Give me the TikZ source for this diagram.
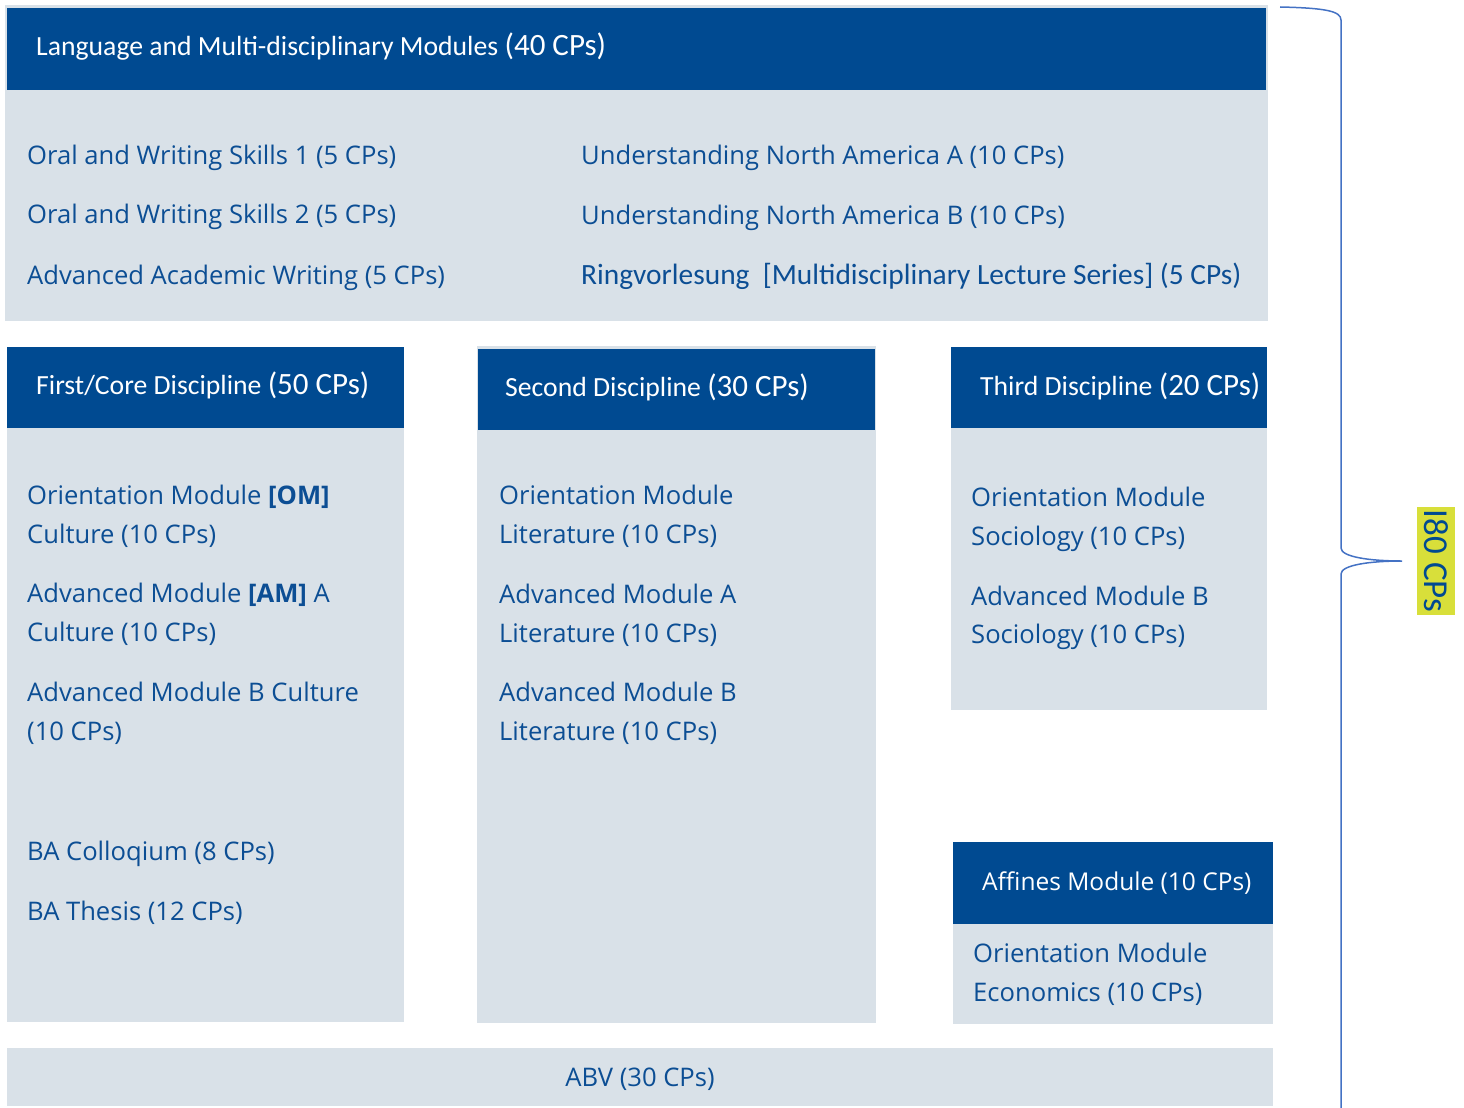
\documentclass[tikz,border=0pt]{standalone}
\usepackage{fontspec}
\setmainfont{Open Sans}
\newfontfamily\calfont{Carlito}
\definecolor{hdblue}{RGB}{0,74,145}
\definecolor{txblue}{RGB}{12,78,148}
\definecolor{paleblue}{RGB}{217,225,232}
\definecolor{braceblue}{RGB}{68,114,196}
\definecolor{markyellow}{RGB}{216,223,58}
\tikzset{
  hdtext/.style={anchor=west, inner sep=0pt, yshift=-1pt, text=white, font=\calfont\fontsize{27.7}{31}\selectfont},
  item/.style={anchor=west, inner sep=0pt, yshift=-6.5pt, text height=0.76em, text depth=0.24em, text=txblue, font=\fontsize{25.6}{29}\selectfont},
}
\newcommand{\cps}[1]{{\fontsize{31}{34}\selectfont(#1 CPs)}}
\begin{document}
\begin{tikzpicture}[x=1pt, y=-1pt]
\useasboundingbox (0,0) rectangle (1464,1108);
% boxes
\fill[paleblue] (5,5) rectangle (1268,321);
\fill[hdblue] (7,8) rectangle (1266,90);
\fill[paleblue] (7,428) rectangle (404,1022);
\fill[hdblue] (7,347) rectangle (404,428);
\fill[paleblue] (477,346) rectangle (876,1023);
\fill[hdblue] (478,349) rectangle (875,430);
\fill[paleblue] (951,428) rectangle (1267,710);
\fill[hdblue] (951,347) rectangle (1267,428);
\fill[paleblue] (953,924) rectangle (1273,1024);
\fill[hdblue] (953,842) rectangle (1273,924);
\fill[paleblue] (7,1048) rectangle (1273,1106);

% language modules
\node[hdtext] (lang) at (36,46) {Language and Multi-disciplinary Modules \cps{40}};
\node[item] (ows1) at (27,155) {Oral and Writing Skills 1 (5 CPs)};
\node[item] (ows2) at (27,214) {Oral and Writing Skills 2 (5 CPs)};
\node[item] (aaw) at (27,275) {Advanced Academic Writing (5 CPs)};
\node[item] (unaa) at (581,155) {Understanding North America A (10 CPs)};
\node[item] (unab) at (581,215) {Understanding North America B (10 CPs)};
\node[item, font=\calfont\fontsize{29.4}{33}\selectfont] (ring) at (581,275) {Ringvorlesung\ \ [Multidisciplinary Lecture Series] (5 CPs)};

% first discipline
\node[hdtext] (first) at (36,384) {First/Core Discipline \cps{50}};
\node[item] (om1) at (27,495) {Orientation Module \textbf{[OM]}};
\node[item] (om1b) at (27,534) {Culture (10 CPs)};
\node[item] (ama1) at (27,593) {Advanced Module \textbf{[AM]} A};
\node[item] (ama1b) at (27,632) {Culture (10 CPs)};
\node[item] (amb1) at (27,692) {Advanced Module B Culture};
\node[item] (amb1b) at (27,731) {(10 CPs)};
\node[item] (coll) at (27,851) {BA Colloqium (8 CPs)};
\node[item] (thesis) at (27,911) {BA Thesis (12 CPs)};

% second discipline
\node[hdtext] (second) at (505,386) {Second Discipline \cps{30}};
\node[item] (om2) at (499,495) {Orientation Module};
\node[item] (om2b) at (499,534) {Literature (10 CPs)};
\node[item] (ama2) at (499,594) {Advanced Module A};
\node[item] (ama2b) at (499,633) {Literature (10 CPs)};
\node[item] (amb2) at (499,692) {Advanced Module B};
\node[item] (amb2b) at (499,731) {Literature (10 CPs)};

% third discipline
\node[hdtext] (third) at (980,385) {Third Discipline \cps{20}};
\node[item] (om3) at (971,497) {Orientation Module};
\node[item] (om3b) at (971,536) {Sociology (10 CPs)};
\node[item] (amb3) at (971,596) {Advanced Module B};
\node[item] (amb3b) at (971,634) {Sociology (10 CPs)};

% affines
\node[item, text=white, font=\fontsize{24.5}{28}\selectfont] (aff) at (982,881) {Affines Module (10 CPs)};
\node[item] (om4) at (973,953) {Orientation Module};
\node[item] (om4b) at (973,992) {Economics (10 CPs)};

% abv
\node[item, anchor=center] (abv) at (640,1077) {ABV (30 CPs)};

% brace and total
\draw[braceblue, line width=1.5pt] (1280,7) .. controls (1325,8) and (1341,11) .. (1341,20)
  -- (1341,548) .. controls (1341,557) and (1370,561) .. (1402,561)
  .. controls (1370,561) and (1341,565) .. (1341,574) -- (1341,1108);
\fill[markyellow] (1417,507) rectangle (1455,615);
\node[rotate=-90, inner sep=0pt, text=hdblue, font=\calfont\fontsize{35}{39}\selectfont] (total) at (1436,561) {I80 CPs};
\end{tikzpicture}
\end{document}
